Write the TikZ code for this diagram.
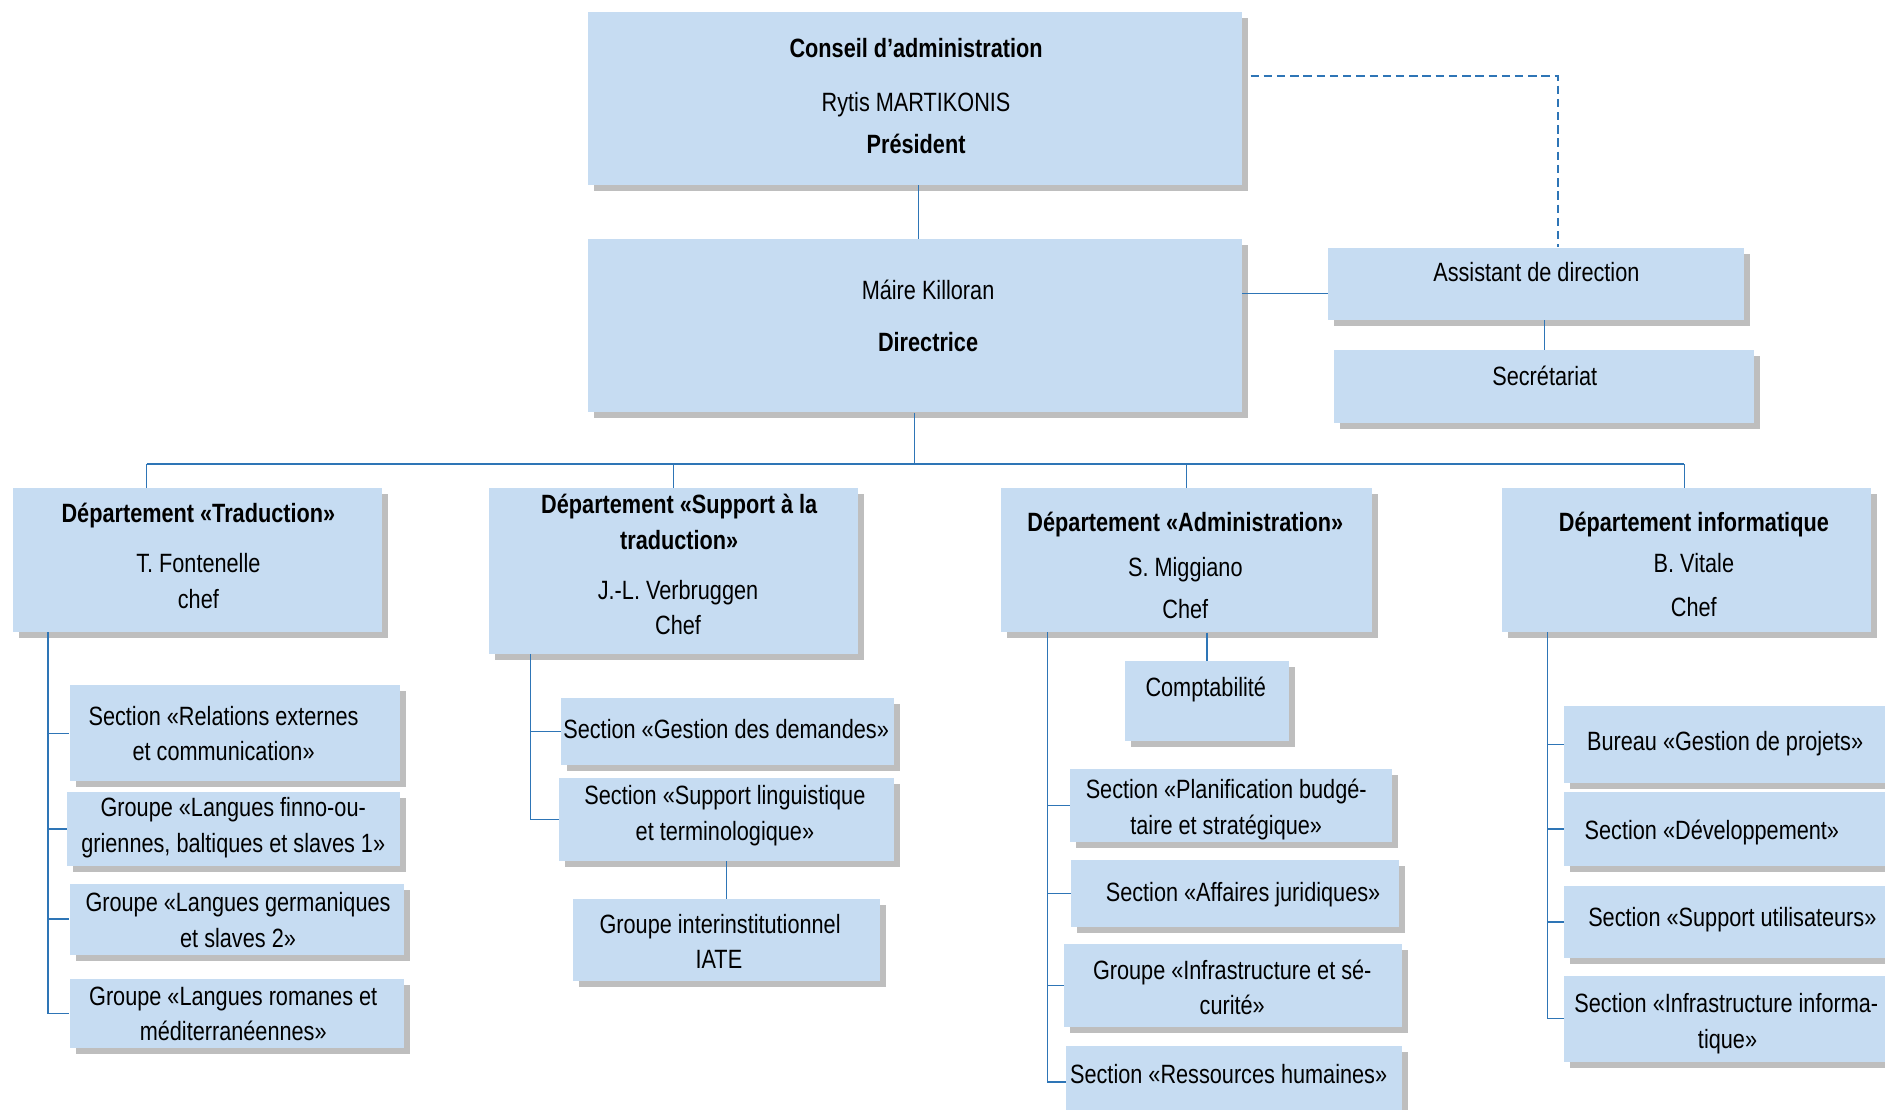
\documentclass[tikz,border=0pt]{standalone}
\usepackage{fontspec}
\setmainfont[FakeStretch=0.82]{Liberation Sans}
\usetikzlibrary{shadows}
\definecolor{boxblue}{RGB}{198,220,242}
\definecolor{shadowgray}{RGB}{190,190,190}
\definecolor{linkblue}{RGB}{46,117,182}
\tikzset{
  orgbox/.style={fill=boxblue, draw=none, inner sep=0pt,
    drop shadow={shadow xshift=5pt, shadow yshift=-5pt, fill=shadowgray, opacity=1}},
  txt/.style={inner sep=0pt, text height=0.7em, text depth=0pt, yshift=-4pt,
    font=\fontsize{22}{26}\selectfont, text=black},
  btxt/.style={txt, font=\fontsize{22}{26}\selectfont\bfseries},
  link/.style={draw=linkblue, line width=1pt},
  dashlink/.style={draw=linkblue, line width=1.8pt, dash pattern=on 7pt off 4pt}
}
\newcommand{\obox}[5]{\node[orgbox, minimum width={#4-#2}, minimum height={#5-#3}] (#1) at ({(#2+#4)/2},{(#3+#5)/2}) {};}
\newcommand{\otxt}[4]{\node[txt] (#1) at (#2,#3) {#4};}
\newcommand{\obtxt}[4]{\node[btxt] (#1) at (#2,#3) {#4};}
\begin{document}
\begin{tikzpicture}[x=1pt,y=-1pt]
\useasboundingbox (0,0) rectangle (1568,923);
\clip (0,0) rectangle (1568,923);
\fill[white] (0,0) rectangle (1568,923);

% top boxes
\obox{conseil}{489}{10}{1033}{154}
\obox{directrice}{489}{199}{1033}{343}
\obox{assistant}{1105}{206}{1451}{266}
\obox{secretariat}{1110}{291}{1459}{352}

% departments
\obox{trad}{11}{406}{318}{526}
\obox{support}{407}{406}{714}{544}
\obox{admin}{833}{406}{1141}{526}
\obox{info}{1249}{406}{1556}{526}

% traduction children
\obox{t1}{58}{570}{333}{650}
\obox{t2}{56}{659}{333}{720}
\obox{t3}{58}{735}{336}{794}
\obox{t4}{58}{814}{336}{872}

% support children
\obox{s1}{467}{581}{744}{636}
\obox{s2}{465}{647}{744}{716}
\obox{s3}{477}{748}{732}{816}

% admin children
\obox{compta}{936}{550}{1072}{616}
\obox{a1}{890}{640}{1158}{700}
\obox{a2}{891}{715}{1164}{771}
\obox{a3}{885}{785}{1166}{854}
\obox{a4}{887}{870}{1166}{930}

% info children
\obox{i1}{1301}{587}{1600}{651}
\obox{i2}{1301}{659}{1600}{720}
\obox{i3}{1301}{737}{1600}{797}
\obox{i4}{1301}{812}{1600}{883}

% texts
\obtxt{c1}{762}{40}{Conseil d’administration}
\otxt{c2}{762}{85}{Rytis MARTIKONIS}
\obtxt{c3}{762}{120}{Président}
\otxt{d1}{772}{242}{Máire Killoran}
\obtxt{d2}{772}{285}{Directrice}
\otxt{as1}{1278}{227}{Assistant de direction}
\otxt{se1}{1285}{313}{Secrétariat}

\obtxt{tr1}{165}{427}{Département «Traduction»}
\otxt{tr2}{165}{469}{T. Fontenelle}
\otxt{tr3}{165}{499}{chef}
\obtxt{su1}{565}{420}{Département «Support à la}
\obtxt{su2}{565}{450}{traduction»}
\otxt{su3}{564}{491}{J.-L. Verbruggen}
\otxt{su4}{564}{520}{Chef}
\obtxt{ad1}{986}{435}{Département «Administration»}
\otxt{ad2}{986}{472}{S. Miggiano}
\otxt{ad3}{986}{507}{Chef}
\obtxt{in1}{1409}{435}{Département informatique}
\otxt{in2}{1409}{469}{B. Vitale}
\otxt{in3}{1409}{505}{Chef}

\otxt{t1a}{186}{596}{Section «Relations externes}
\otxt{t1b}{186}{625}{et communication»}
\otxt{t2a}{194}{672}{Groupe «Langues finno-ou-}
\otxt{t2b}{194}{702}{griennes, baltiques et slaves 1»}
\otxt{t3a}{198}{751}{Groupe «Langues germaniques}
\otxt{t3b}{198}{781}{et slaves 2»}
\otxt{t4a}{194}{829}{Groupe «Langues romanes et}
\otxt{t4b}{194}{858}{méditerranéennes»}

\otxt{s1a}{604}{607}{Section «Gestion des demandes»}
\otxt{s2a}{603}{662}{Section «Support linguistique}
\otxt{s2b}{603}{692}{et terminologique»}
\otxt{s3a}{599}{769}{Groupe interinstitutionnel}
\otxt{s3b}{598}{798}{IATE}

\otxt{coa}{1003}{572}{Comptabilité}
\otxt{a1a}{1020}{657}{Section «Planification budgé-}
\otxt{a1b}{1020}{687}{taire et stratégique»}
\otxt{a2a}{1034}{742}{Section «Affaires juridiques»}
\otxt{a3a}{1025}{807}{Groupe «Infrastructure et sé-}
\otxt{a3b}{1025}{836}{curité»}
\otxt{a4a}{1022}{894}{Section «Ressources humaines»}

\otxt{i1a}{1435}{617}{Bureau «Gestion de projets»}
\otxt{i2a}{1424}{691}{Section «Développement»}
\otxt{i3a}{1441}{763}{Section «Support utilisateurs»}
\otxt{i4a}{1436}{835}{Section «Infrastructure informa-}
\otxt{i4b}{1437}{865}{tique»}

% connectors top
\draw[link] ([xshift=3pt]conseil.south) -- ([xshift=3pt]conseil.south |- directrice.north);
\draw[dashlink] ([xshift=7pt,yshift=19pt]conseil.east) -| ([xshift=18pt]assistant.north);
\coordinate (aw) at ([yshift=-8pt]assistant.west);
\draw[link] (aw -| directrice.east) -- (aw);
\draw[link] (secretariat.north |- assistant.south) -- (secretariat.north);

% bus
\coordinate (busL) at (122,386);
\coordinate (busR) at (1401,386);
\draw[link] (directrice.south) -- (directrice.south |- busL);
\draw[link] (busL) -- (busR);
\draw[link] (busL) -- (busL |- trad.north);
\draw[link] (support.north |- busL) -- (support.north);
\draw[link] (admin.north |- busL) -- (admin.north);
\draw[link] (busR) -- (busR |- info.north);

% traduction spine
\coordinate (tsp) at (40,526);
\draw[link] (tsp) -- (tsp |- t4.west) -- (t4.west);
\foreach \b in {t1,t2,t3} \draw[link] (tsp |- \b.west) -- (\b.west);

% support spine
\coordinate (ssp) at (441,544);
\draw[link] (ssp) -- (ssp |- s2.west) -- (s2.west);
\draw[link] (ssp |- s1.west) -- (s1.west);
\draw[link] (s2.south -| s3.north) -- (s3.north);

% admin spine
\coordinate (asp) at (871,526);
\draw[link] (asp) -- (asp |- a4.west) -- (a4.west);
\foreach \b in {a1,a2,a3} \draw[link] (asp |- \b.west) -- (\b.west);
\draw[link] (compta.north |- admin.south) -- (compta.north);

% info spine
\coordinate (isp) at (1287,526);
\draw[link] (isp) -- (isp |- i4.west) -- (i4.west);
\foreach \b in {i1,i2,i3} \draw[link] (isp |- \b.west) -- (\b.west);
\end{tikzpicture}
\end{document}
